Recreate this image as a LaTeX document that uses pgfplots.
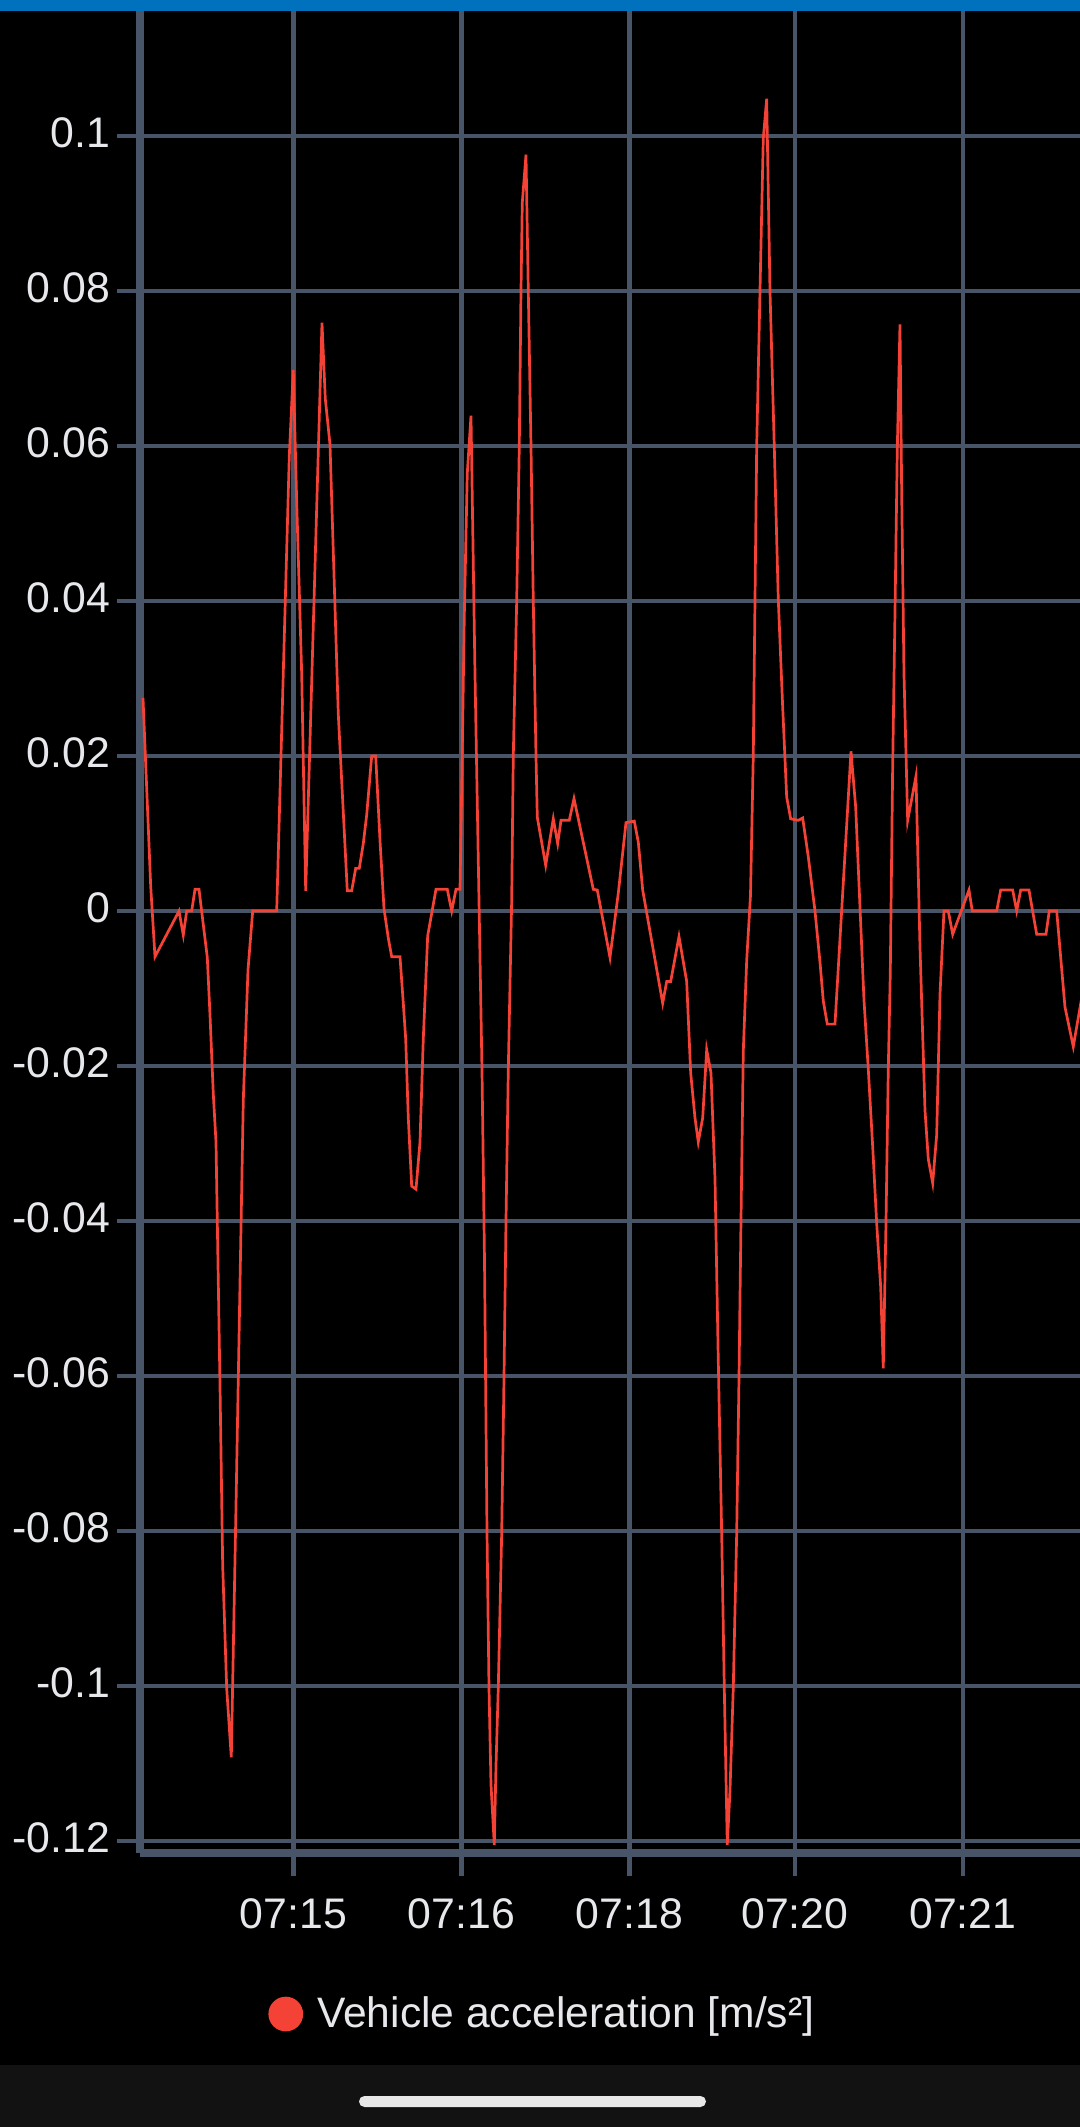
\documentclass[border=0pt]{standalone}
\usepackage{fontspec}
\setmainfont{Liberation Sans}
\usepackage{pgfplots}
\usepackage{pgfplotstable}
\pgfplotsset{compat=1.18}
\definecolor{gridc}{RGB}{72,85,104}
\definecolor{accred}{RGB}{244,67,54}
\definecolor{labc}{RGB}{230,232,236}
\definecolor{topblue}{RGB}{0,113,188}
\definecolor{navbar}{RGB}{18,18,18}
\definecolor{pill}{RGB}{232,232,232}

\pgfplotstableread{
t v
143 0.0275
150.7 0.0032
155 -0.0059
179 0.0
183.3 -0.0031
186.7 0.0
191.7 0.0
195 0.0028
199 0.0028
207.3 -0.0060
210 -0.0134
213.3 -0.0236
216 -0.0298
217.3 -0.0400
220 -0.0612
222.7 -0.0845
226.7 -0.1003
231.3 -0.1092
236 -0.0768
243.3 -0.0244
248 -0.0076
252.7 0.0
276.7 0.0
289.3 0.0587
293.3 0.0698
296.7 0.0528
301.7 0.0306
305.7 0.0026
322 0.0759
325.3 0.0661
330 0.0602
338.3 0.0254
347.3 0.0026
351.7 0.0026
355.7 0.0055
359.3 0.0055
363.3 0.0087
366.7 0.0124
371.7 0.0200
375.7 0.0200
380 0.0091
384 0.0003
388.3 -0.0035
391.7 -0.0059
400 -0.0059
403.3 -0.0119
405.7 -0.0165
408.3 -0.0267
411.7 -0.0355
416 -0.0359
420 -0.0298
423.3 -0.0165
427.7 -0.0032
436 0.0028
447.3 0.0028
451.7 0.0
456 0.0028
460 0.0028
461.7 0.0157
464.3 0.0380
467.3 0.0565
471 0.0639
475 0.0306
479 0.0014
482 -0.0205
484.5 -0.0450
487 -0.0800
489 -0.1002
491 -0.1127
494.3 -0.1205
496 -0.1103
498.3 -0.1002
501.7 -0.0803
504 -0.0603
506 -0.0400
508.3 -0.0205
511.7 0.0014
513.3 0.0200
516.7 0.0400
519.3 0.0600
521 0.0800
522.3 0.0914
526 0.0976
528.3 0.0800
531 0.0600
533.3 0.0400
536 0.0200
537.3 0.0121
545.7 0.0059
553.3 0.0119
557.7 0.0087
561 0.0117
569.3 0.0117
574 0.0145
593.3 0.0028
597.3 0.0027
610 -0.0060
618.3 0.0023
626 0.0114
634.3 0.0116
638.3 0.0089
642.7 0.0027
662.7 -0.0119
666.7 -0.0091
670.7 -0.0091
679 -0.0033
686.7 -0.0091
690.7 -0.0209
695 -0.0267
698.3 -0.0298
702.7 -0.0267
706.7 -0.0179
711 -0.0209
715 -0.0345
718.3 -0.0580
721.7 -0.0803
724.3 -0.1002
727.3 -0.1205
730 -0.1135
733.3 -0.1002
736.7 -0.0803
739 -0.0603
741 -0.0400
743.3 -0.0181
746.7 -0.0064
750.5 0.0020
753.3 0.0201
756.7 0.0599
760 0.0800
763.3 0.0997
766.7 0.1048
770 0.0800
774.3 0.0599
778.3 0.0402
782.7 0.0263
786.7 0.0147
790.7 0.0119
798.3 0.0117
802.7 0.0120
808.3 0.0070
815 0.0
820 -0.0066
823.3 -0.0116
827.3 -0.0146
835 -0.0146
843.3 0.0036
851 0.0206
855.7 0.0134
861.7 -0.0046
864 -0.0115
868.3 -0.0204
872.7 -0.0304
876.7 -0.0403
880.7 -0.0485
883.3 -0.0590
886 -0.0403
888.3 -0.0204
890.3 -0.0080
892.7 0.0188
895 0.0384
897.3 0.0595
900 0.0757
901.7 0.0540
904 0.0306
907.7 0.0117
916 0.0174
920 -0.0046
925 -0.0257
928.3 -0.0320
932.7 -0.0351
936.7 -0.0289
940 -0.0108
944 0.0
948.3 0.0
952.7 -0.0030
969 0.0027
972.3 0.0
996.7 0.0
1000.7 0.0027
1012.7 0.0027
1016.7 0.0
1020.7 0.0027
1029 0.0027
1036.7 -0.0030
1046 -0.0030
1049.3 0.0
1056.7 0.0
1065 -0.0124
1073.3 -0.0175
1082 -0.0110
}\accdata

\begin{document}
\begin{tikzpicture}
\useasboundingbox (-70bp,-137bp) rectangle (470bp,926.5bp);
\fill[black] (-70bp,-137bp) rectangle (470bp,926.5bp);
\fill[navbar] (-70bp,-137bp) rectangle (470bp,-106bp);
\fill[pill, rounded corners=2.75bp] (109.5bp,-127bp) rectangle (283bp,-121.5bp);
\begin{axis}[
  at={(0,0)}, anchor=south west,
  scale only axis, width=470bp, height=926.5bp,
  xmin=140, xmax=1080, ymin=-0.121548, ymax=0.117548,
  xtick={293.4,461.4,629.5,794.8,962.8},
  xticklabels={07:15,07:16,07:18,07:20,07:21},
  ytick={-0.12,-0.1,-0.08,-0.06,-0.04,-0.02,0,0.02,0.04,0.06,0.08,0.1},
  yticklabels={-0.12,-0.1,-0.08,-0.06,-0.04,-0.02,0,0.02,0.04,0.06,0.08,0.1},
  grid=major,
  major grid style={gridc, line width=2.25bp},
  axis x line*=bottom, axis y line*=left,
  axis line style={gridc, line width=4bp},
  tick align=outside, major tick length=11.5bp,
  tick style={gridc, line width=2.25bp},
  ticklabel style={font=\fontsize{21.4bp}{25bp}\selectfont, text=labc},
  yticklabel style={yshift=1.5bp},
  xticklabel style={yshift=-8bp},
  clip=true,
  legend style={at={(axis description cs:0.1362,-0.0869)}, anchor=west,
    draw=none, fill=none, inner sep=0pt, text=labc,
    font=\fontsize{21.3bp}{25bp}\selectfont},
  legend image code/.code={\fill[accred] (8bp,0bp) circle (8bp); \path (21bp,0bp);},
]
\addplot[accred, line width=1.35bp, mark=none] table[x=t, y=v] {\accdata};
\addlegendentry{Vehicle acceleration [m/s²]}
\end{axis}
\fill[topblue] (-70bp,921bp) rectangle (470bp,926.5bp);
\end{tikzpicture}
\end{document}
